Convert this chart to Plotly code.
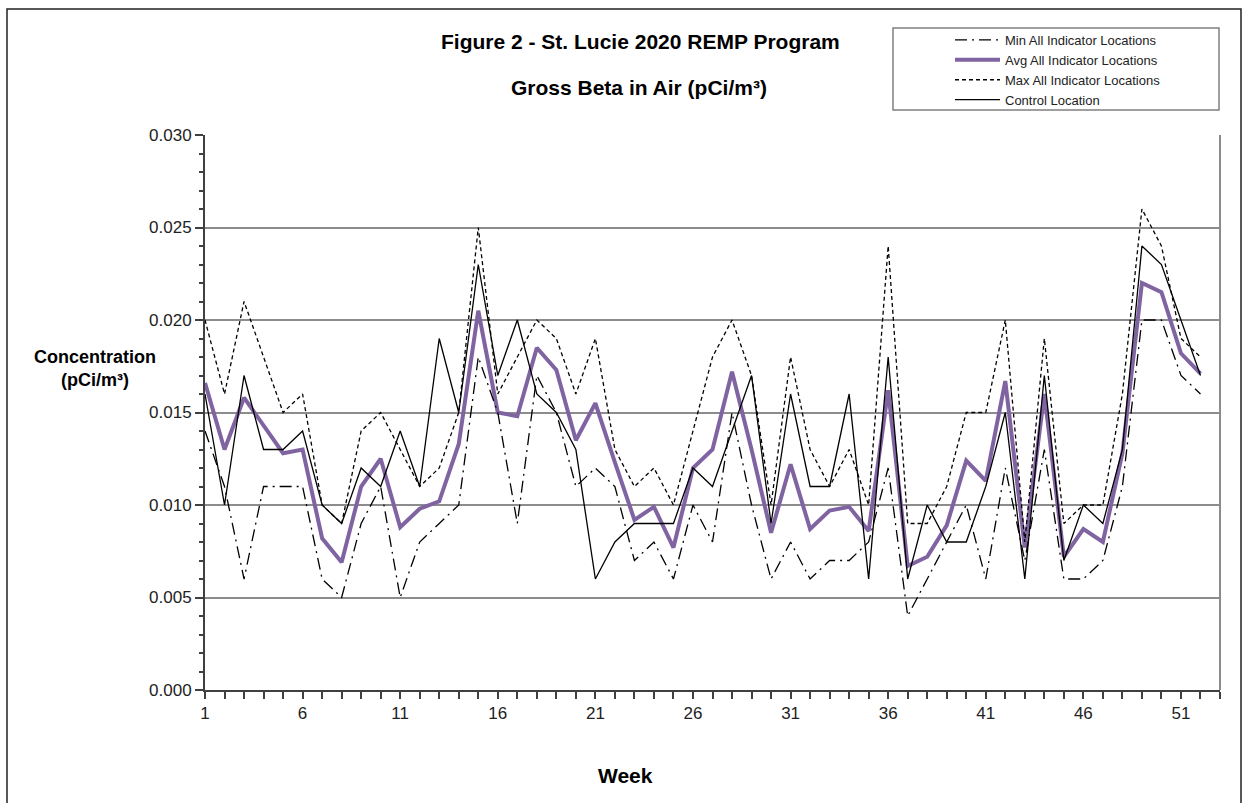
import plotly.graph_objects as go

weeks = list(range(1, 53))

min_vals = [0.014, 0.011, 0.006, 0.011, 0.011, 0.011, 0.006, 0.005, 0.009, 0.011,
            0.005, 0.008, 0.009, 0.010, 0.018, 0.015, 0.009, 0.017, 0.015, 0.011,
            0.012, 0.011, 0.007, 0.008, 0.006, 0.010, 0.008, 0.015, 0.010, 0.006,
            0.008, 0.006, 0.007, 0.007, 0.008, 0.012, 0.004, 0.006, 0.008, 0.010,
            0.006, 0.012, 0.007, 0.013, 0.006, 0.006, 0.007, 0.011, 0.020, 0.020,
            0.017, 0.016]

avg_vals = [0.0166, 0.0130, 0.0158, 0.0143, 0.0128, 0.0130, 0.0082, 0.0069, 0.0110, 0.0125,
            0.0088, 0.0098, 0.0102, 0.0133, 0.0205, 0.0150, 0.0148, 0.0185, 0.0173, 0.0135,
            0.0155, 0.0123, 0.0092, 0.0099, 0.0077, 0.0120, 0.0130, 0.0172, 0.0130, 0.0085,
            0.0122, 0.0087, 0.0097, 0.0099, 0.0086, 0.0162, 0.0067, 0.0072, 0.0089, 0.0124,
            0.0113, 0.0167, 0.0077, 0.0160, 0.0072, 0.0087, 0.0080, 0.0128, 0.0220, 0.0215,
            0.0182, 0.0171]

max_vals = [0.020, 0.016, 0.021, 0.018, 0.015, 0.016, 0.010, 0.009, 0.014, 0.015,
            0.013, 0.011, 0.012, 0.015, 0.025, 0.016, 0.018, 0.020, 0.019, 0.016,
            0.019, 0.013, 0.011, 0.012, 0.010, 0.014, 0.018, 0.020, 0.017, 0.010,
            0.018, 0.013, 0.011, 0.013, 0.010, 0.024, 0.009, 0.009, 0.011, 0.015,
            0.015, 0.020, 0.008, 0.019, 0.009, 0.010, 0.010, 0.016, 0.026, 0.024,
            0.019, 0.018]

control_vals = [0.016, 0.010, 0.017, 0.013, 0.013, 0.014, 0.010, 0.009, 0.012, 0.011,
                0.014, 0.011, 0.019, 0.015, 0.023, 0.017, 0.020, 0.016, 0.015, 0.013,
                0.006, 0.008, 0.009, 0.009, 0.009, 0.012, 0.011, 0.014, 0.017, 0.009,
                0.016, 0.011, 0.011, 0.016, 0.006, 0.018, 0.006, 0.010, 0.008, 0.008,
                0.011, 0.015, 0.006, 0.017, 0.007, 0.010, 0.009, 0.013, 0.024, 0.023,
                0.020, 0.017]

x_tick_vals = [1, 6, 11, 16, 21, 26, 31, 36, 41, 46, 51]
y_tick_vals = [0.000, 0.005, 0.010, 0.015, 0.020, 0.025, 0.030]

FONT = "Liberation Sans, Arial, sans-serif"

fig = go.Figure()

fig.add_trace(go.Scatter(
    x=weeks, y=avg_vals, mode="lines", name="Avg All Indicator Locations",
    line=dict(color="#8064A2", width=4), legendrank=2))
fig.add_trace(go.Scatter(
    x=weeks, y=min_vals, mode="lines", name="Min All Indicator Locations",
    line=dict(color="black", width=1.3, dash="12px,5px,2px,5px"), legendrank=1))
fig.add_trace(go.Scatter(
    x=weeks, y=max_vals, mode="lines", name="Max All Indicator Locations",
    line=dict(color="black", width=1.3, dash="4px,3px"), legendrank=3))
fig.add_trace(go.Scatter(
    x=weeks, y=control_vals, mode="lines", name="Control Location",
    line=dict(color="black", width=1.3), legendrank=4))

L, R, T, B = 205, 29, 135, 113
PW = 1249 - L - R
PH = 803 - T - B


def px(x):
    return (x - L) / PW


def py(y):
    return (803 - B - y) / PH


fig.update_layout(
    width=1249, height=803,
    margin=dict(l=L, r=R, t=T, b=B),
    paper_bgcolor="white", plot_bgcolor="white",
    font=dict(family=FONT, color="black"),
    showlegend=True,
    legend=dict(
        x=px(950), y=py(25), xanchor="left", yanchor="top",
        borderwidth=0, bgcolor="rgba(0,0,0,0)",
        font=dict(size=13, color="#222"),
        traceorder="normal", itemwidth=45,
        tracegroupgap=0,
    ),
    xaxis=dict(
        range=[1, 53], tickmode="array", tickvals=x_tick_vals,
        ticktext=[str(v) for v in x_tick_vals],
        ticks="outside", ticklen=7, tickwidth=1.5, tickcolor="#404040",
        minor=dict(dtick=1, tick0=1, ticks="outside", ticklen=7, tickwidth=1.5,
                   tickcolor="#404040", showgrid=False),
        showgrid=False, zeroline=False,
        showline=True, linecolor="#404040", linewidth=2,
        tickfont=dict(size=17, color="#222"),
    ),
    yaxis=dict(
        range=[0, 0.030], tickmode="array", tickvals=y_tick_vals,
        ticktext=[f"{v:.3f}" for v in y_tick_vals],
        ticks="outside", ticklen=8, tickwidth=1.5, tickcolor="#404040",
        minor=dict(dtick=0.001, ticks="outside", ticklen=4, tickwidth=1.5,
                   tickcolor="#404040", showgrid=False),
        showgrid=True, gridcolor="#8c8c8c", gridwidth=2,
        zeroline=False,
        showline=True, linecolor="#404040", linewidth=2,
        tickfont=dict(size=17, color="#222"),
    ),
    shapes=[
        dict(type="line", xref="paper", yref="paper", x0=1, x1=1, y0=0, y1=1,
             line=dict(color="#8c8c8c", width=2)),
        dict(type="rect", xref="paper", yref="paper",
             x0=px(7), x1=px(1241), y0=py(812), y1=py(9),
             line=dict(color="#222", width=1.5), fillcolor="rgba(0,0,0,0)"),
        dict(type="rect", xref="paper", yref="paper",
             x0=px(893), x1=px(1219), y0=py(110), y1=py(28),
             line=dict(color="#808080", width=1.5), fillcolor="rgba(0,0,0,0)"),
    ],
    annotations=[
        dict(text="<b>Figure 2 - St. Lucie 2020 REMP Program</b>", xref="paper", yref="paper",
             x=px(640), y=py(42), xanchor="center", yanchor="middle", showarrow=False,
             font=dict(size=21, color="black")),
        dict(text="<b>Gross Beta in Air (pCi/m³)</b>", xref="paper", yref="paper",
             x=px(639), y=py(88), xanchor="center", yanchor="middle", showarrow=False,
             font=dict(size=21, color="black")),
        dict(text="<b>Concentration<br>(pCi/m³)</b>", xref="paper", yref="paper",
             x=px(95), y=py(368), xanchor="center", yanchor="middle", showarrow=False,
             font=dict(size=18, color="black")),
        dict(text="<b>Week</b>", xref="paper", yref="paper",
             x=px(625), y=py(775), xanchor="center", yanchor="middle", showarrow=False,
             font=dict(size=21, color="black")),
    ],
)

fig.write_html("out.html", config={"displayModeBar": False},
               post_script="document.body.style.margin='0';document.body.style.overflow='hidden';")
